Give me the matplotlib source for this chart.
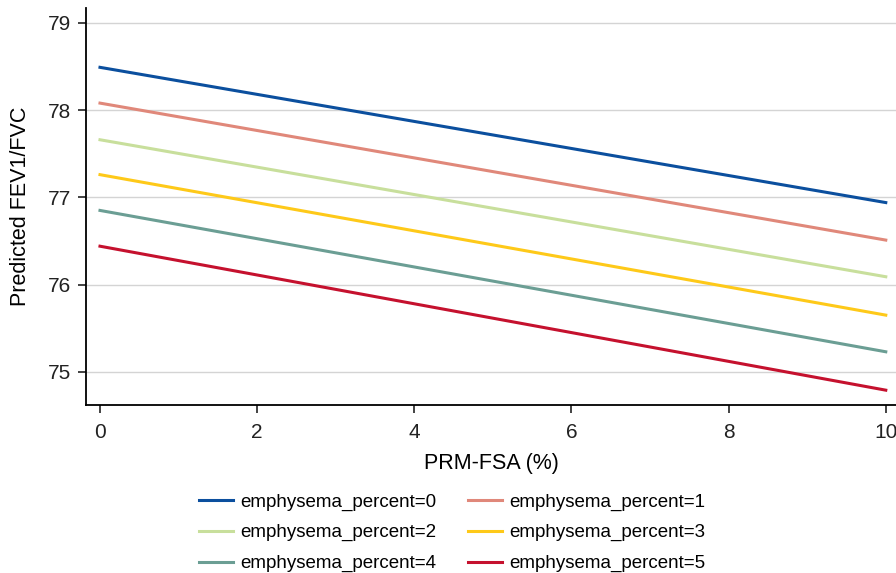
import matplotlib.pyplot as plt

plt.rcParams['font.family'] = ['Liberation Sans', 'DejaVu Sans']

# PRM-FSA (%) endpoints
prm_fsa = [0, 10]

# predicted FEV1/FVC for each emphysema level
emph0 = [78.49, 76.94]
emph1 = [78.08, 76.51]
emph2 = [77.66, 76.09]
emph3 = [77.26, 75.65]
emph4 = [76.85, 75.23]
emph5 = [76.44, 74.79]

series = [emph0, emph1, emph2, emph3, emph4, emph5]
labels = ["emphysema_percent=" + str(i) for i in range(6)]
colors = ["#0b4f9e", "#e0887a", "#c8df9c", "#fec919", "#6b9e94", "#c5112e"]

fig = plt.figure(figsize=(8.96, 5.73), dpi=100)
ax = fig.add_axes([86 / 896, 1 - 405 / 573, 810 / 896, 397 / 573])

handles = []
for vals, lab, col in zip(series, labels, colors):
    h, = ax.plot(prm_fsa, vals, color=col, linewidth=2.2, label=lab)
    handles.append(h)

ax.set_xlim(-0.178, 10.13)
ax.set_ylim(74.62, 79.17)
ax.set_xticks([0, 2, 4, 6, 8, 10])
ax.set_yticks([75, 76, 77, 78, 79])
ax.grid(axis='y', color='#d4d4d4', linewidth=1)
ax.set_axisbelow(True)
ax.spines['top'].set_visible(False)
ax.spines['right'].set_visible(False)
ax.spines['left'].set_linewidth(1.3)
ax.spines['bottom'].set_linewidth(1.3)
ax.tick_params(labelsize=15, length=6, width=1.2, colors='#222222', pad=7)
ax.tick_params(axis='y', pad=5)

ax.set_xlabel("PRM-FSA (%)", fontsize=15.5, labelpad=8)
ax.set_ylabel("Predicted FEV1/FVC", fontsize=15.5, labelpad=12)

# legend fills column-wise, so reorder to read 0 1 / 2 3 / 4 5
order = [0, 2, 4, 1, 3, 5]
ax.legend([handles[i] for i in order], [labels[i] for i in order],
          loc='upper center', bbox_to_anchor=(0.452, -0.18), ncol=2,
          frameon=False, fontsize=13.5, handlelength=1.8, columnspacing=1.7,
          labelspacing=0.72, handletextpad=0.4)

fig.savefig("out.png", dpi=100)
